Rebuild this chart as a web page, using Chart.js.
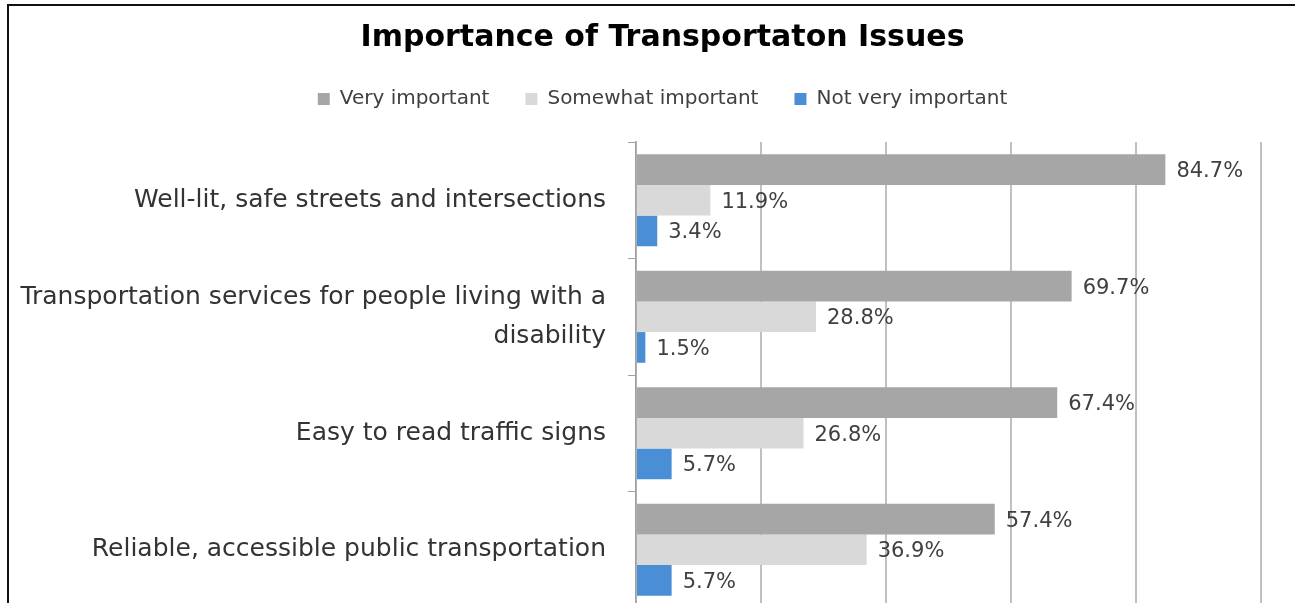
<!DOCTYPE html>
<html>
<head>
<meta charset="utf-8">
<script src="https://cdn.jsdelivr.net/npm/chart.js@4.4.1/dist/chart.umd.min.js"></script>
<style>
  html, body {
    margin: 0;
    padding: 0;
    background: #ffffff;
    overflow: hidden;
  }

  .frame {
    position: absolute;
    left: 7px;
    top: 4px;
    width: 1290px;
    height: 640px;
    border-top: 2px solid #111;
    border-left: 2px solid #111;
    pointer-events: none;
  }

  #chartIssues {
    position: absolute;
    left: 0;
    top: 0;
  }
</style>
</head>
<body>
<canvas id="chartIssues" width="1295" height="620"></canvas>
<div class="frame"></div>

<script>
const categorias = [
  "Well-lit, safe streets and intersections",
  ["Transportation services for people living with a", "disability"],
  "Easy to read traffic signs",
  "Reliable, accessible public transportation"
];

const muitoImportante = [84.7, 69.7, 67.4, 57.4];
const algoImportante = [11.9, 28.8, 26.8, 36.9];
const poucoImportante = [3.4, 1.5, 5.7, 5.7];

const fonte = "'DejaVu Sans', 'Open Sans', sans-serif";

// rotulos de valor no fim de cada barra
const rotulosPlugin = {
  id: "rotulos",
  afterDatasetsDraw(chart) {
    const ctx = chart.ctx;
    ctx.save();
    ctx.font = "21px " + fonte;
    ctx.fillStyle = "#404040";
    ctx.textAlign = "left";
    ctx.textBaseline = "middle";

    chart.data.datasets.forEach((ds, i) => {
      const meta = chart.getDatasetMeta(i);
      meta.data.forEach((bar, j) => {
        ctx.fillText(ds.data[j].toFixed(1) + "%", bar.x + 11, bar.y + 2);
      });
    });

    ctx.restore();
  }
};

// titulo e legenda ficam um pouco a direita do centro, como no original
const deslocarTopo = {
  id: "deslocarTopo",
  afterLayout(chart) {
    [chart.titleBlock, chart.legend].forEach((bloco) => {
      if (!bloco) return;
      bloco.left += 32;
      bloco.right += 32;
    });
  }
};

new Chart(document.getElementById("chartIssues"), {
  type: "bar",
  data: {
    labels: categorias,
    datasets: [
      {
        label: "Very important",
        data: muitoImportante,
        backgroundColor: "#a6a6a6"
      },
      {
        label: "Somewhat important",
        data: algoImportante,
        backgroundColor: "#d9d9d9"
      },
      {
        label: "Not very important",
        data: poucoImportante,
        backgroundColor: "#4a8fd6"
      }
    ]
  },
  options: {
    indexAxis: "y",
    responsive: false,
    animation: false,
    categoryPercentage: 0.79,
    barPercentage: 1,
    layout: {
      padding: { left: 0, right: 34, top: 0, bottom: 12 }
    },
    plugins: {
      title: {
        display: true,
        text: "Importance of Transportaton Issues",
        color: "#000000",
        font: { family: fonte, size: 30, weight: "bold", lineHeight: 1 },
        padding: { top: 23, bottom: 0 }
      },
      legend: {
        display: true,
        position: "top",
        labels: {
          color: "#404040",
          font: { family: fonte, size: 20 },
          boxWidth: 12,
          boxHeight: 12,
          padding: 36
        }
      },
      tooltip: { enabled: false }
    },
    scales: {
      x: {
        position: "top",
        min: 0,
        max: 100,
        afterFit(scale) {
          scale.height = 23;
        },
        ticks: { display: false, stepSize: 20 },
        grid: { color: "#c0c0c0", lineWidth: 2, drawTicks: false },
        border: { display: false }
      },
      y: {
        afterFit(scale) {
          scale.width = 636;
          // sem folga extra em cima/baixo por causa dos rotulos
          scale.paddingTop = 0;
          scale.paddingBottom = 0;
        },
        ticks: {
          color: "#333333",
          font: { family: fonte, size: 25, lineHeight: 1.55 },
          padding: 22
        },
        grid: {
          drawOnChartArea: false,
          drawTicks: true,
          tickLength: 8,
          color: "#a0a0a0",
          offset: true
        },
        border: { display: true, color: "#a0a0a0", width: 1.5 }
      }
    }
  },
  plugins: [rotulosPlugin, deslocarTopo]
});
</script>
</body>
</html>
